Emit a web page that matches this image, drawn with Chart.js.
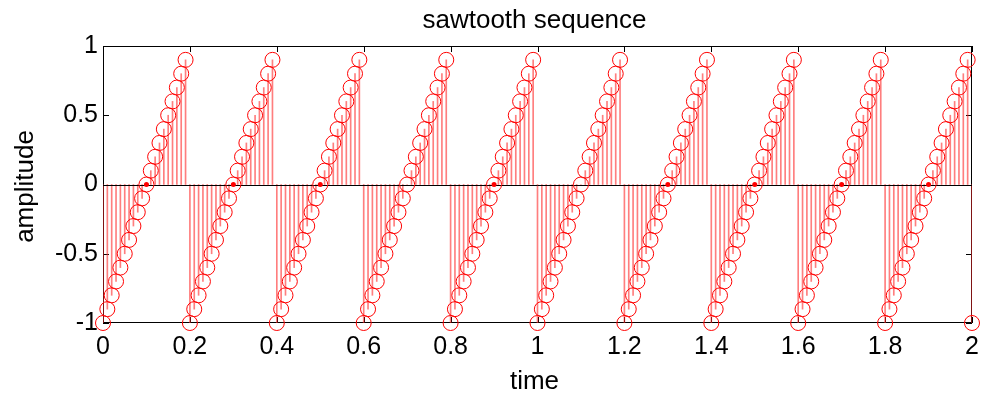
<!DOCTYPE html>
<html>
<head>
<meta charset="utf-8">
<script src="https://cdn.jsdelivr.net/npm/chart.js@4/dist/chart.umd.min.js"></script>
<style>
  html, body { margin: 0; padding: 0; background: #fff; }
  #wrap { width: 981px; height: 398px; }
</style>
</head>
<body>
<div id="wrap"><canvas id="c" width="981" height="398"></canvas></div>
<script>
// sample times (s)
const TIME = [
  0.00, 0.01, 0.02, 0.03, 0.04, 0.05, 0.06, 0.07, 0.08, 0.09, 0.10, 0.11, 0.12, 0.13, 0.14, 0.15, 0.16, 0.17, 0.18, 0.19,
  0.20, 0.21, 0.22, 0.23, 0.24, 0.25, 0.26, 0.27, 0.28, 0.29, 0.30, 0.31, 0.32, 0.33, 0.34, 0.35, 0.36, 0.37, 0.38, 0.39,
  0.40, 0.41, 0.42, 0.43, 0.44, 0.45, 0.46, 0.47, 0.48, 0.49, 0.50, 0.51, 0.52, 0.53, 0.54, 0.55, 0.56, 0.57, 0.58, 0.59,
  0.60, 0.61, 0.62, 0.63, 0.64, 0.65, 0.66, 0.67, 0.68, 0.69, 0.70, 0.71, 0.72, 0.73, 0.74, 0.75, 0.76, 0.77, 0.78, 0.79,
  0.80, 0.81, 0.82, 0.83, 0.84, 0.85, 0.86, 0.87, 0.88, 0.89, 0.90, 0.91, 0.92, 0.93, 0.94, 0.95, 0.96, 0.97, 0.98, 0.99,
  1.00, 1.01, 1.02, 1.03, 1.04, 1.05, 1.06, 1.07, 1.08, 1.09, 1.10, 1.11, 1.12, 1.13, 1.14, 1.15, 1.16, 1.17, 1.18, 1.19,
  1.20, 1.21, 1.22, 1.23, 1.24, 1.25, 1.26, 1.27, 1.28, 1.29, 1.30, 1.31, 1.32, 1.33, 1.34, 1.35, 1.36, 1.37, 1.38, 1.39,
  1.40, 1.41, 1.42, 1.43, 1.44, 1.45, 1.46, 1.47, 1.48, 1.49, 1.50, 1.51, 1.52, 1.53, 1.54, 1.55, 1.56, 1.57, 1.58, 1.59,
  1.60, 1.61, 1.62, 1.63, 1.64, 1.65, 1.66, 1.67, 1.68, 1.69, 1.70, 1.71, 1.72, 1.73, 1.74, 1.75, 1.76, 1.77, 1.78, 1.79,
  1.80, 1.81, 1.82, 1.83, 1.84, 1.85, 1.86, 1.87, 1.88, 1.89, 1.90, 1.91, 1.92, 1.93, 1.94, 1.95, 1.96, 1.97, 1.98, 1.99,
  2.00
];

// sawtooth amplitude at each sample
const AMPLITUDE = [
  -1, -0.9, -0.8, -0.7, -0.6, -0.5, -0.4, -0.3, -0.2, -0.1, 0, 0.1, 0.2, 0.3, 0.4, 0.5, 0.6, 0.7, 0.8, 0.9,
  -1, -0.9, -0.8, -0.7, -0.6, -0.5, -0.4, -0.3, -0.2, -0.1, 0, 0.1, 0.2, 0.3, 0.4, 0.5, 0.6, 0.7, 0.8, 0.9,
  -1, -0.9, -0.8, -0.7, -0.6, -0.5, -0.4, -0.3, -0.2, -0.1, 0, 0.1, 0.2, 0.3, 0.4, 0.5, 0.6, 0.7, 0.8, 0.9,
  -1, -0.9, -0.8, -0.7, -0.6, -0.5, -0.4, -0.3, -0.2, -0.1, 0, 0.1, 0.2, 0.3, 0.4, 0.5, 0.6, 0.7, 0.8, 0.9,
  -1, -0.9, -0.8, -0.7, -0.6, -0.5, -0.4, -0.3, -0.2, -0.1, 0, 0.1, 0.2, 0.3, 0.4, 0.5, 0.6, 0.7, 0.8, 0.9,
  -1, -0.9, -0.8, -0.7, -0.6, -0.5, -0.4, -0.3, -0.2, -0.1, 0, 0.1, 0.2, 0.3, 0.4, 0.5, 0.6, 0.7, 0.8, 0.9,
  -1, -0.9, -0.8, -0.7, -0.6, -0.5, -0.4, -0.3, -0.2, -0.1, 0, 0.1, 0.2, 0.3, 0.4, 0.5, 0.6, 0.7, 0.8, 0.9,
  -1, -0.9, -0.8, -0.7, -0.6, -0.5, -0.4, -0.3, -0.2, -0.1, 0, 0.1, 0.2, 0.3, 0.4, 0.5, 0.6, 0.7, 0.8, 0.9,
  -1, -0.9, -0.8, -0.7, -0.6, -0.5, -0.4, -0.3, -0.2, -0.1, 0, 0.1, 0.2, 0.3, 0.4, 0.5, 0.6, 0.7, 0.8, 0.9,
  -1, -0.9, -0.8, -0.7, -0.6, -0.5, -0.4, -0.3, -0.2, -0.1, 0, 0.1, 0.2, 0.3, 0.4, 0.5, 0.6, 0.7, 0.8, 0.9,
  -1
];

// zero samples that show an extra filled dot
const ZERO_DOT_TIME = [0.1, 0.3, 0.5, 0.9, 1.3, 1.5, 1.7, 1.9];
const ZERO_DOT_VALUE = [0, 0, 0, 0, 0, 0, 0, 0];

const X_TICK_STEP = 0.2;
const Y_TICK_STEP = 0.5;

const FONT = 'Liberation Sans, Arial, sans-serif';

const stems = TIME.map((t, i) => ({ x: t, y: AMPLITUDE[i] }));
const marks = TIME.map((t, i) => ({ x: t, y: AMPLITUDE[i] }));
const dots = ZERO_DOT_TIME.map((t, i) => ({ x: t, y: ZERO_DOT_VALUE[i] }));

const fmt = v => String(+(+v).toFixed(2));

// matlab style box, inward ticks, zero baseline and texts
const matlabAxes = {
  id: 'matlabAxes',
  beforeDatasetsDraw(chart) {
    const { ctx, chartArea: a, scales: { x, y } } = chart;
    const tl = 6;
    ctx.save();
    ctx.strokeStyle = '#000';
    ctx.lineWidth = 1;
    ctx.strokeRect(Math.round(a.left) + 0.5, Math.round(a.top) + 0.5,
      Math.round(a.right - a.left) - 1, Math.round(a.bottom - a.top) - 1);
    ctx.beginPath();
    x.ticks.forEach(t => {
      const px = Math.round(x.getPixelForValue(t.value)) + 0.5;
      ctx.moveTo(px, a.bottom); ctx.lineTo(px, a.bottom - tl);
      ctx.moveTo(px, a.top); ctx.lineTo(px, a.top + tl);
    });
    y.ticks.forEach(t => {
      const py = Math.round(y.getPixelForValue(t.value)) + 0.5;
      ctx.moveTo(a.left, py); ctx.lineTo(a.left + tl, py);
      ctx.moveTo(a.right, py); ctx.lineTo(a.right - tl, py);
    });
    ctx.stroke();
    ctx.restore();
  },
  afterDatasetDraw(chart, args) {
    if (args.index !== 0) return;
    const { ctx, chartArea: a, scales: { y } } = chart;
    const py = Math.round(y.getPixelForValue(0)) + 0.5;
    ctx.save();
    ctx.strokeStyle = '#000';
    ctx.lineWidth = 1;
    ctx.beginPath();
    ctx.moveTo(a.left, py); ctx.lineTo(a.right, py);
    ctx.stroke();
    ctx.restore();
  },
  afterDraw(chart) {
    const { ctx, chartArea: a } = chart;
    const cx = (a.left + a.right) / 2 - 3;
    ctx.save();
    ctx.fillStyle = '#000';
    ctx.font = '26px ' + FONT;
    ctx.textAlign = 'center';
    ctx.textBaseline = 'alphabetic';
    ctx.fillText('sawtooth sequence', cx, 28);
    ctx.fillText('time', cx, 389);
    ctx.translate(33, (a.top + a.bottom) / 2 + 2);
    ctx.rotate(-Math.PI / 2);
    ctx.fillText('amplitude', 0, 0);
    ctx.restore();
  }
};

new Chart(document.getElementById('c'), {
  type: 'bar',
  data: {
    datasets: [
      {
        type: 'bar',
        data: stems,
        backgroundColor: 'rgba(255,40,40,0.6)',
        borderWidth: 0,
        barThickness: 1,
        order: 3
      },
      {
        type: 'line',
        data: marks,
        showLine: false,
        pointStyle: 'circle',
        pointRadius: 7.5,
        pointBorderWidth: 1,
        pointBorderColor: '#ff0000',
        pointBackgroundColor: 'rgba(0,0,0,0)',
        clip: false,
        order: 2
      },
      {
        type: 'line',
        data: dots,
        showLine: false,
        pointStyle: 'circle',
        pointRadius: 2.5,
        pointBorderWidth: 0,
        pointBackgroundColor: '#ff0000',
        clip: false,
        order: 1
      }
    ]
  },
  options: {
    responsive: false,
    animation: false,
    events: [],
    layout: { padding: { top: 46, right: 9, left: 0, bottom: 0 } },
    plugins: { legend: { display: false }, tooltip: { enabled: false }, title: { display: false } },
    scales: {
      x: {
        type: 'linear',
        min: 0,
        max: 2,
        offset: false,
        grid: { display: false, drawTicks: false },
        border: { display: false },
        ticks: {
          stepSize: X_TICK_STEP,
          autoSkip: false,
          maxRotation: 0,
          padding: 9,
          color: '#000',
          font: { family: FONT, size: 25 },
          callback: fmt
        },
        afterFit(s) { s.height = 75; s.paddingLeft = 0; s.paddingRight = 0; }
      },
      y: {
        min: -1,
        max: 1,
        grid: { display: false, drawTicks: false },
        border: { display: false },
        ticks: {
          stepSize: Y_TICK_STEP,
          padding: 5,
          color: '#000',
          font: { family: FONT, size: 25 },
          callback: fmt
        },
        afterFit(s) { s.width = 103; s.paddingTop = 0; s.paddingBottom = 0; }
      }
    }
  },
  plugins: [matlabAxes]
});
</script>
</body>
</html>
